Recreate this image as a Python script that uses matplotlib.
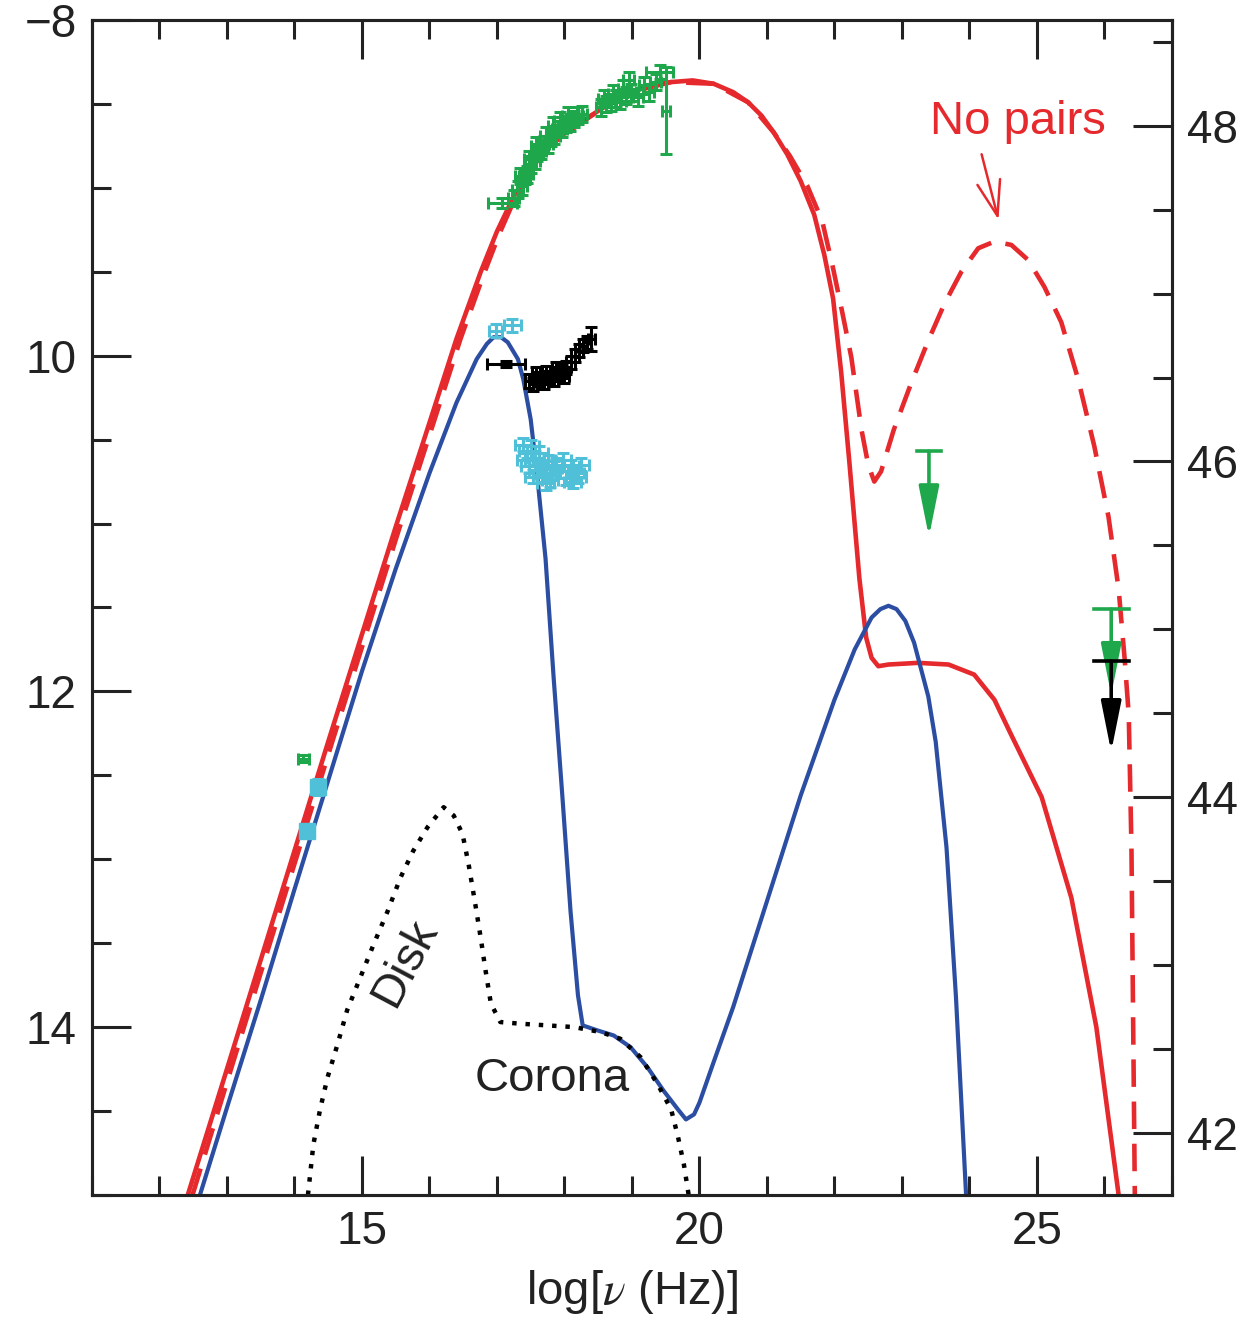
import matplotlib
matplotlib.use("Agg")
import matplotlib.pyplot as plt
from matplotlib.ticker import MultipleLocator, FixedLocator, FixedFormatter

plt.rcParams['font.family'] = ['Liberation Sans', 'DejaVu Sans']
plt.rcParams['mathtext.fontset'] = 'stix'

RED = '#e5292d'
BLUE = '#2c4ea2'
GREEN = '#1fa84b'
CYAN = '#4fc0d8'
INK = '#222222'

LUM_OFFSET = 56.63  # log L = log nuFnu + log(4 pi d^2)

# model curves (log nu, log nuFnu)
red_x = [12.42, 13.0, 13.5, 14.0, 14.5, 15.0, 15.5, 16.0, 16.4, 16.76, 17.0, 17.25,
         17.5, 17.75, 18.05, 18.39, 18.7, 18.98, 19.3, 19.58, 19.9, 20.21, 20.5, 20.72,
         20.92, 21.10, 21.30, 21.50, 21.70, 21.85, 21.98, 22.10, 22.22, 22.37, 22.47,
         22.55, 22.65, 22.80, 23.24, 23.69, 24.07, 24.37, 24.62, 25.07, 25.51, 25.88,
         26.21]
red_y = [-15.0, -14.25, -13.60, -12.95, -12.30, -11.66, -11.02, -10.40, -9.90, -9.50,
         -9.26, -9.05, -8.89, -8.76, -8.66, -8.57, -8.49, -8.43, -8.39, -8.37, -8.36,
         -8.38, -8.43, -8.49, -8.57, -8.67, -8.80, -8.96, -9.16, -9.40, -9.66, -10.10,
         -10.63, -11.33, -11.68, -11.80, -11.85, -11.84, -11.83, -11.84, -11.90, -12.05,
         -12.26, -12.63, -13.23, -14.00, -15.0]

nopairs_x = [12.49, 13.06, 13.56, 14.06, 14.56, 15.06, 15.56, 16.06, 16.46, 16.80, 17.04,
             17.28, 17.77, 18.40, 18.98, 19.58, 20.21, 20.72, 21.10, 21.34, 21.60, 21.82,
             21.98, 22.12, 22.25, 22.40, 22.50, 22.59, 22.69, 22.88, 23.14, 23.39, 23.63,
             23.88, 24.13, 24.37, 24.62, 24.87, 25.11, 25.36, 25.61, 25.85, 26.06, 26.21,
             26.30, 26.36, 26.40, 26.45]
nopairs_y = [-15.0, -14.25, -13.60, -12.95, -12.30, -11.66, -11.02, -10.40, -9.90, -9.52,
             -9.27, -9.05, -8.75, -8.57, -8.43, -8.37, -8.38, -8.49, -8.67, -8.81, -8.99,
             -9.20, -9.48, -9.75, -10.01, -10.44, -10.65, -10.75, -10.69, -10.44, -10.16,
             -9.91, -9.69, -9.50, -9.36, -9.32, -9.34, -9.43, -9.59, -9.80, -10.14, -10.54,
             -10.96, -11.39, -11.81, -12.14, -12.93, -15.0]

blue_x = [12.60, 13.0, 13.5, 14.0, 14.5, 15.0, 15.5, 16.0, 16.4, 16.7, 16.85, 16.95,
          17.06, 17.16, 17.31, 17.39, 17.50, 17.60, 17.72, 17.84, 17.97, 18.09, 18.20,
          18.27, 18.49, 18.73, 18.98, 19.23, 19.47, 19.68, 19.80, 19.92, 20.0, 20.2, 20.5,
          21.0, 21.5, 22.0, 22.3, 22.55, 22.68, 22.8, 22.92, 23.05, 23.18, 23.39, 23.5,
          23.66, 23.80, 23.95]
blue_y = [-15.0, -14.48, -13.84, -13.18, -12.53, -11.88, -11.27, -10.70, -10.28, -10.02,
          -9.93, -9.89, -9.89, -9.92, -10.02, -10.14, -10.38, -10.73, -11.21, -11.92,
          -12.63, -13.31, -13.81, -13.99, -14.02, -14.05, -14.12, -14.24, -14.38, -14.49,
          -14.55, -14.52, -14.45, -14.22, -13.88, -13.25, -12.62, -12.05, -11.75, -11.56,
          -11.51, -11.49, -11.51, -11.58, -11.71, -12.03, -12.30, -12.93, -13.82, -15.0]

disk_x = [14.20, 14.28, 14.38, 14.49, 14.64, 14.78, 14.98, 15.17, 15.38, 15.57, 15.76,
          15.97, 16.21, 16.36, 16.49, 16.58, 16.68, 16.76, 16.83, 16.91, 17.05, 17.35,
          17.75, 18.14, 18.54, 18.83, 19.13, 19.38, 19.58, 19.68, 19.77, 19.84]
disk_y = [-15.0, -14.70, -14.49, -14.30, -14.10, -13.90, -13.70, -13.51, -13.31, -13.11,
          -12.95, -12.81, -12.69, -12.74, -12.85, -13.03, -13.27, -13.47, -13.66, -13.86,
          -13.97, -13.98, -13.99, -14.00, -14.03, -14.07, -14.18, -14.34, -14.49, -14.65,
          -14.82, -15.0]

# data points
green_x = [17.25, 17.31, 17.37, 17.41, 17.45, 17.50, 17.56, 17.60, 17.65, 17.69, 17.75,
           17.80, 17.85, 17.90, 17.96, 18.02, 18.08, 18.14, 18.20, 18.26, 17.34, 17.48,
           17.58, 17.72, 17.83, 17.93, 18.05, 18.54, 18.61, 18.69, 18.76, 18.83, 18.91,
           18.98, 19.09, 19.18, 19.25, 19.35, 18.58, 18.72, 18.87]
green_y = [-9.06, -9.01, -8.99, -8.93, -8.92, -8.86, -8.84, -8.79, -8.78, -8.74, -8.74,
           -8.70, -8.69, -8.65, -8.65, -8.62, -8.61, -8.59, -8.57, -8.56, -8.93, -8.83,
           -8.75, -8.69, -8.63, -8.60, -8.57, -8.52, -8.50, -8.49, -8.47, -8.48, -8.45,
           -8.43, -8.46, -8.39, -8.43, -8.37, -8.47, -8.44, -8.41]
green_wide_x = [14.13, 17.08, 18.95, 19.41, 19.50]
green_wide_y = [-12.40, -9.09, -8.36, -8.31, -8.54]
green_wide_xerr = [0.08, 0.22, 0.08, 0.20, 0.06]
green_wide_yerr = [0.02, 0.03, 0.05, 0.04, 0.26]

cyan_x = [17.38, 17.45, 17.51, 17.57, 17.63, 17.69, 17.75, 17.81, 17.87, 17.94, 18.02,
          18.09, 18.17, 18.24, 17.54, 17.72, 17.42, 17.60, 17.78, 17.98, 18.12, 17.48,
          17.66, 17.84, 18.06, 18.20]
cyan_y = [-10.53, -10.57, -10.54, -10.61, -10.58, -10.66, -10.63, -10.70, -10.65, -10.69,
          -10.73, -10.66, -10.70, -10.65, -10.72, -10.76, -10.62, -10.68, -10.74, -10.62,
          -10.75, -10.66, -10.71, -10.67, -10.69, -10.72]
cyan_wide_x = [14.19, 14.35, 16.98, 17.23]
cyan_wide_y = [-12.83, -12.57, -9.85, -9.82]
cyan_wide_xerr = [0.10, 0.06, 0.10, 0.12]
cyan_wide_yerr = [0.04, 0.05, 0.04, 0.04]

black_x = [17.47, 17.54, 17.62, 17.69, 17.77, 17.84, 17.91, 17.97, 18.03, 18.09, 18.15,
           18.21, 18.27, 18.33, 17.58, 17.73, 17.88, 18.00]
black_y = [-10.15, -10.17, -10.14, -10.16, -10.13, -10.14, -10.11, -10.09, -10.07, -10.04,
           -10.00, -9.97, -9.94, -9.92, -10.11, -10.10, -10.08, -10.12]
black_wide_x = [17.13, 18.40]
black_wide_y = [-10.05, -9.90]
black_wide_xerr = [0.28, 0.05]
black_wide_yerr = [0.02, 0.07]

# upper limits: x, cap level, arrow tip, half width of cap
ul_green_x = [23.40, 26.10]
ul_green_y = [-10.57, -11.51]
ul_green_tip = [-11.08, -12.02]
ul_green_w = [0.18, 0.26]
ul_black_x = [26.10]
ul_black_y = [-11.82]
ul_black_tip = [-12.36]
ul_black_w = [0.26]

fig, ax = plt.subplots(figsize=(12.58, 13.32), dpi=100)
fig.subplots_adjust(left=0.0731, right=0.9316, bottom=0.1029, top=0.985)

ax.plot(nopairs_x, nopairs_y, color=RED, lw=3.3, linestyle=(0, (6, 3.2)), zorder=2)
ax.plot(red_x, red_y, color=RED, lw=3.3, zorder=3, solid_joinstyle='round')
ax.plot(blue_x, blue_y, color=BLUE, lw=3.0, zorder=3, solid_joinstyle='round')
ax.plot(disk_x, disk_y, color='black', lw=3.2, linestyle=(0, (1, 2.0)), zorder=3)

eb = dict(fmt='none', elinewidth=2.2, capsize=4, capthick=2.2, zorder=4)
ax.errorbar(green_x, green_y, xerr=0.08, yerr=0.05, ecolor=GREEN, **eb)
ax.errorbar(green_wide_x, green_wide_y, xerr=green_wide_xerr, yerr=green_wide_yerr,
            ecolor=GREEN, **eb)
ax.errorbar(cyan_x, cyan_y, xerr=0.12, yerr=0.04, ecolor=CYAN, **eb)
ax.errorbar(cyan_wide_x, cyan_wide_y, xerr=cyan_wide_xerr, yerr=cyan_wide_yerr,
            ecolor=CYAN, **eb)
ax.plot(cyan_wide_x[:2], cyan_wide_y[:2], 's', color=CYAN, ms=11, zorder=4)
ax.errorbar(black_x, black_y, xerr=0.06, yerr=0.04, ecolor='black', **eb)
ax.errorbar(black_wide_x, black_wide_y, xerr=black_wide_xerr, yerr=black_wide_yerr,
            ecolor='black', **eb)

for xs, ys, tips, ws, c in [(ul_green_x, ul_green_y, ul_green_tip, ul_green_w, GREEN),
                            (ul_black_x, ul_black_y, ul_black_tip, ul_black_w, 'black')]:
    for x, y, t, w in zip(xs, ys, tips, ws):
        ax.plot([x - w, x + w], [y, y], color=c, lw=2.6, zorder=5)
        ax.annotate('', xy=(x, t), xytext=(x, y),
                    arrowprops=dict(arrowstyle='-|>,head_length=1.1,head_width=0.22',
                                    color=c, lw=2.6, shrinkA=0, shrinkB=0,
                                    mutation_scale=28), zorder=5)

ax.text(24.72, -8.61, 'No pairs', color=RED, fontsize=34, ha='center', va='center')
ax.annotate('', xy=(24.43, -9.19), xytext=(24.18, -8.80),
            arrowprops=dict(arrowstyle='->,head_length=0.9,head_width=0.3', color=RED,
                            lw=1.8, shrinkA=0, shrinkB=0, mutation_scale=28))
ax.text(15.64, -13.62, 'Disk', fontsize=34, rotation=62, ha='center', va='center',
        color=INK)
ax.text(17.82, -14.31, 'Corona', fontsize=34, ha='center', va='center', color=INK)

ax.set_xlim(11, 27)
ax.set_ylim(-15, -8)
ax.xaxis.set_major_locator(MultipleLocator(5))
ax.xaxis.set_minor_locator(MultipleLocator(1))
ax.yaxis.set_major_locator(FixedLocator([-14, -12, -10, -8]))
ax.yaxis.set_major_formatter(FixedFormatter(['14', '12', '10', '\u22128']))
ax.yaxis.set_minor_locator(MultipleLocator(0.5))
ax.set_xlabel('log[$\\nu$ (Hz)]', fontsize=34, color=INK, labelpad=10)

ax2 = ax.twinx()
ax2.set_ylim(-15 + LUM_OFFSET, -8 + LUM_OFFSET)
ax2.yaxis.set_major_locator(MultipleLocator(2))
ax2.yaxis.set_minor_locator(MultipleLocator(0.5))

for a in (ax, ax2):
    for s in a.spines.values():
        s.set_linewidth(2.2)
        s.set_color(INK)
    a.tick_params(which='both', direction='in', width=2.2, color=INK,
                  labelsize=33, labelcolor=INK)
    a.tick_params(which='major', length=28, pad=11)
    a.tick_params(which='minor', length=14)
ax.tick_params(axis='x', which='both', top=True)

fig.savefig('out.png', dpi=100)
plt.close(fig)
